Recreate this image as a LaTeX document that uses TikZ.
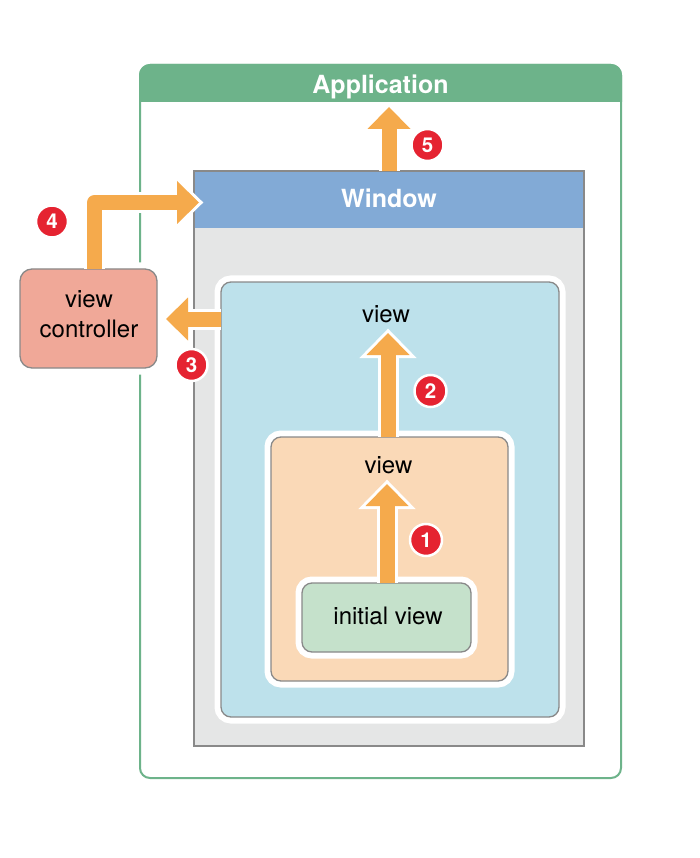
\documentclass[tikz,border=0pt]{standalone}
\usepackage{fontspec}
\setmainfont{TeX Gyre Heros}
\usetikzlibrary{calc}
\definecolor{appgreen}{HTML}{6DB38A}
\definecolor{winblue}{HTML}{82AAD6}
\definecolor{winbody}{HTML}{E5E6E6}
\definecolor{framegray}{HTML}{898989}
\definecolor{bluev}{HTML}{BDE1EB}
\definecolor{orangev}{HTML}{FAD9B7}
\definecolor{initv}{HTML}{C5E1CB}
\definecolor{vcfill}{HTML}{F0A898}
\definecolor{arrowor}{HTML}{F5AA4C}
\definecolor{badgered}{HTML}{E52331}
\newcommand\fatarrow[3]{%
  \coordinate (fa-h) at ($(#3)!22pt!(#2)$);
  \coordinate (fa-e) at ($(#3)!20pt!(#2)$);
  \coordinate (fa-l) at ($(fa-h)!21.5pt!90:(#3)$);
  \coordinate (fa-r) at ($(fa-h)!21.5pt!-90:(#3)$);
  \draw[arrowrim] #1 -- (fa-h);
  \draw[headrim] (fa-l) -- (#3) -- (fa-r) -- cycle;
  \draw[arrowshaft] #1 -- (fa-e);
  \fill[arrowor] (fa-l) -- (#3) -- (fa-r) -- cycle;
}
\begin{document}
\begin{tikzpicture}[x=1pt,y=-1pt,
  box/.style={outer sep=0pt, inner sep=0pt},
  appbox/.style={box, draw=appgreen, line width=2pt, rounded corners=10pt, fill=white},
  winbox/.style={box, fill=winbody},
  winframe/.style={draw=framegray, line width=2pt},
  viewbox/.style={box, draw=framegray, line width=1.3pt, rounded corners=10pt,
    preaction={draw=white, line width=13pt}},
  titletext/.style={text=white, font=\bfseries\fontsize{25}{30}\selectfont, inner sep=0pt},
  labeltext/.style={text=black, font=\fontsize{24}{28}\selectfont, inner sep=0pt},
  arrowrim/.style={draw=white, line width=21pt, line join=round},
  headrim/.style={draw=white, line width=6pt, line join=miter},
  arrowshaft/.style={draw=arrowor, line width=15pt, line join=round},
  badge/.style={circle, fill=badgered, draw=white, line width=2.5pt, minimum size=32pt,
    inner sep=0pt, text=white, font=\bfseries\fontsize{20.5}{20.5}\selectfont}
]
\useasboundingbox (0,0) rectangle (700,858);

% Application
\node[appbox, minimum width=481pt, minimum height=713pt] (app) at (380.5,421.5) {};
\begin{scope}
  \clip (130,55) rectangle (630,102);
  \fill[appgreen, rounded corners=11pt] (139,64) rectangle (622,140);
\end{scope}
\node[titletext, anchor=base] (apptitle) at (380.5,94) {Application};

% Window
\node[winbox, minimum width=390pt, minimum height=575pt] (win) at (389,458.5) {};
\coordinate (winsplit) at (584,228);
\fill[winblue] (win.north west) rectangle (winsplit);
\draw[winframe] (win.north west) rectangle (win.south east);
\node[titletext, anchor=base] (wintitle) at (389,208) {Window};

% views
\node[viewbox, fill=bluev, minimum width=338pt, minimum height=435pt] (bluevw) at (390,499.5) {};
\node[labeltext, anchor=base] (bluelabel) at (386,322) {view};

\node[viewbox, fill=orangev, minimum width=237pt, minimum height=244pt] (orangevw) at (389.5,559) {};
\node[labeltext, anchor=base] (orangelabel) at (388.5,473) {view};

\node[viewbox, fill=initv, minimum width=169pt, minimum height=69pt] (init) at (386.5,617.5) {};
\node[labeltext, anchor=base] (initlabel) at (388,624) {initial view};

% view controller
\node[viewbox, fill=vcfill, rounded corners=12pt, minimum width=137pt, minimum height=99pt] (vc) at (88.5,318.5) {};
\node[labeltext, anchor=base] (vcl1) at (89,307) {view};
\node[labeltext, anchor=base] (vcl2) at (89,337) {controller};

% arrows
\coordinate (t1) at (387,484);
\coordinate (b1) at (init.north -| t1);
\fatarrow{(b1)}{b1}{t1}

\coordinate (t2) at (388,333);
\coordinate (b2) at (orangevw.north -| t2);
\fatarrow{(b2)}{b2}{t2}

\coordinate (t3) at (166,319);
\coordinate (b3) at (bluevw.west |- t3);
\fatarrow{(b3)}{b3}{t3}

\coordinate (t4) at (199,202.5);
\coordinate (k4) at (94.5,202.5);
\coordinate (b4) at (vc.north -| k4);
\fatarrow{(b4) -- (k4)}{k4}{t4}

\coordinate (t5) at (389,107);
\coordinate (b5) at (win.north -| t5);
\fatarrow{(b5)}{b5}{t5}

% badges
\node[badge] (n1) at (426,540) {1};
\node[badge] (n2) at (430.5,391) {2};
\node[badge] (n3) at (191.5,365) {3};
\node[badge] (n4) at (52,221.5) {4};
\node[badge] (n5) at (427.5,145) {5};
\end{tikzpicture}
\end{document}
